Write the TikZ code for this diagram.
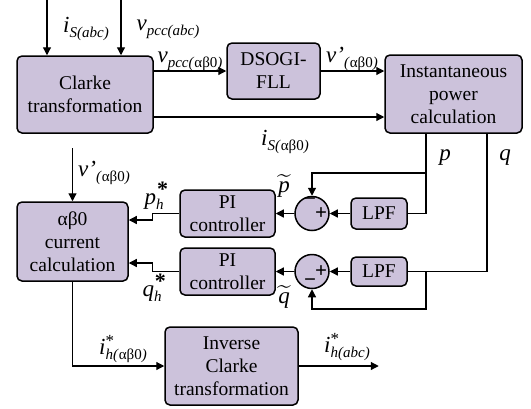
\documentclass[tikz,border=0pt]{standalone}
\usepackage{fix-cm}
\usepackage{amsmath}
\usepackage{fontspec}
\setmainfont{Liberation Serif}
\usetikzlibrary{arrows.meta}
\definecolor{caja}{RGB}{204,194,219}
% letra, superindice, subindice
\newcommand{\etiq}[3]{\textit{#1}\makebox[0pt][l]{\raisebox{8pt}{\fontsize{22}{22}\selectfont #2}}\raisebox{-5pt}{\fontsize{15}{15}\selectfont #3}}

\begin{document}
\begin{tikzpicture}[x=1pt,y=-1pt,
    bloque/.style={draw,line width=1.5pt,rounded corners=5pt,fill=caja,align=center,inner sep=0pt,font=\fontsize{19.5}{23}\selectfont},
    sumador/.style={draw,line width=1.5pt,circle,fill=caja,minimum size=34pt,inner sep=0pt},
    flecha/.style={line width=1.2pt,-{Triangle[length=8pt,width=8pt]}},
    linea/.style={line width=1.2pt},
    etq/.style={font=\fontsize{23}{23}\selectfont,inner sep=0pt},
    signo/.style={font=\fontsize{21}{21}\selectfont\bfseries,inner sep=0pt}]
\useasboundingbox (0,0) rectangle (531,408);

    %Bloques
    \node[bloque,minimum width=136pt,minimum height=77pt] (clarke) at (85,94.5) {Clarke\\transformation};
    \node[bloque,minimum width=93pt,minimum height=56pt] (dsogi) at (273.5,71) {DSOGI-\\FLL};
    \node[bloque,minimum width=137pt,minimum height=78pt] (inst) at (453.5,94) {Instantaneous\\power\\calculation};
    \node[bloque,minimum width=111pt,minimum height=79pt] (corr) at (72.5,241.5) {αβ0\\current\\calculation};
    \node[bloque,minimum width=95pt,minimum height=47pt] (pi1) at (227.5,213.5) {PI\\controller};
    \node[bloque,minimum width=95pt,minimum height=47pt] (pi2) at (227.5,271.5) {PI\\controller};
    \node[bloque,minimum width=56pt,minimum height=31pt] (lpf1) at (379,213.5) {LPF};
    \node[bloque,minimum width=56pt,minimum height=29pt] (lpf2) at (379,271.5) {LPF};
    \node[bloque,minimum width=133pt,minimum height=78pt] (inv) at (231.5,366) {Inverse\\Clarke\\transformation};
    \node[sumador] (sum1) at (312,213.5) {};
    \node[sumador] (sum2) at (312,271.5) {};

    %Signos
    \node[signo] (s1m) at (310,202) {−};
    \node[signo] (s1p) at (321,214) {+};
    \node[signo] (s2p) at (321,271.5) {+};
    \node[signo] (s2m) at (310,283) {−};

    %Puntos libres
    \coordinate (is) at (47,0);
    \coordinate (vp) at (121,0);
    \coordinate (pout) at ([xshift=-27.5pt]inst.south);
    \coordinate (qout) at ([xshift=33.5pt]inst.south);
    \coordinate (pb) at (426,173);
    \coordinate (qb) at (426,271.5);
    \coordinate (qd) at (426,309);
    \coordinate (vin) at (72.5,148);

    %Conexiones
    \draw[flecha] (is) -- (is |- clarke.north);
    \draw[flecha] (vp) -- (vp |- clarke.north);
    \draw[flecha] (clarke.east |- dsogi.west) -- (dsogi.west);
    \draw[flecha] (dsogi.east) -- (dsogi.east -| inst.west);
    \draw[flecha] ([yshift=-22.5pt]clarke.east) -- ([yshift=-22.5pt]clarke.east -| inst.west);
    \draw[linea] (pout) |- (lpf1.east);
    \draw[linea] (qout) |- (lpf2.east);
    \draw[flecha] (pb) -| (sum1.north);
    \draw[flecha] (qb) -- (qd) -| (sum2.south);
    \draw[flecha] (lpf1.west) -- (sum1.east);
    \draw[flecha] (lpf2.west) -- (sum2.east);
    \draw[flecha] (sum1.west) -- (pi1.east);
    \draw[flecha] (sum2.west) -- (pi2.east);
    \draw[flecha] (pi1.west) -- ++(-27,0) |- ([yshift=21.5pt]corr.east);
    \draw[flecha] (pi2.west) -- ++(-27,0) |- ([yshift=-21.5pt]corr.east);
    \draw[flecha] (vin) -- (corr.north);
    \draw[flecha] (corr.south) |- (inv.west);
    \draw[flecha] (inv.east) -- ++(80,0) coordinate (iout);

    %Etiquetas
    \node[etq] (l1) at (86,29) {\etiq{i}{}{\textit{S(abc)}}};
    \node[etq] (l2) at (168,29) {\etiq{v}{}{\textit{pcc(abc)}}};
    \node[etq] (l3) at (190,61) {\etiq{v}{}{\textit{pcc(}αβ0\textit{)}}};
    \node[etq] (l4) at (352,59) {\etiq{v’}{}{\textit{(}αβ0\textit{)}}};
    \node[etq] (l5) at (285,142) {\etiq{i}{}{\textit{S(}αβ0\textit{)}}};
    \node[etq] (l6) at (445,158) {\textit{p}};
    \node[etq] (l7) at (505,158) {\textit{q}};
    \node[etq] (l8) at (284,186) {$\widetilde{\textit{p}}$};
    \node[etq] (l9) at (284,297) {$\widetilde{\textit{q}}$};
    \node[etq] (l10) at (154,196) {\etiq{p}{\hspace{1pt}\textbf{*}}{\textit{h}}};
    \node[etq] (l11) at (152,288) {\etiq{q}{\hspace{1pt}\textbf{*}}{\textit{h}}};
    \node[etq] (l12) at (104,173) {\etiq{v’}{}{\textit{(}αβ0\textit{)}}};
    \node[etq] (l13) at (123,349) {\etiq{i}{\fontsize{17}{17}\selectfont *}{\textit{h(}αβ0\textit{)}}};
    \node[etq] (l14) at (347,347) {\etiq{i}{\fontsize{17}{17}\selectfont *}{\textit{h(abc)}}};
\end{tikzpicture}
\end{document}
